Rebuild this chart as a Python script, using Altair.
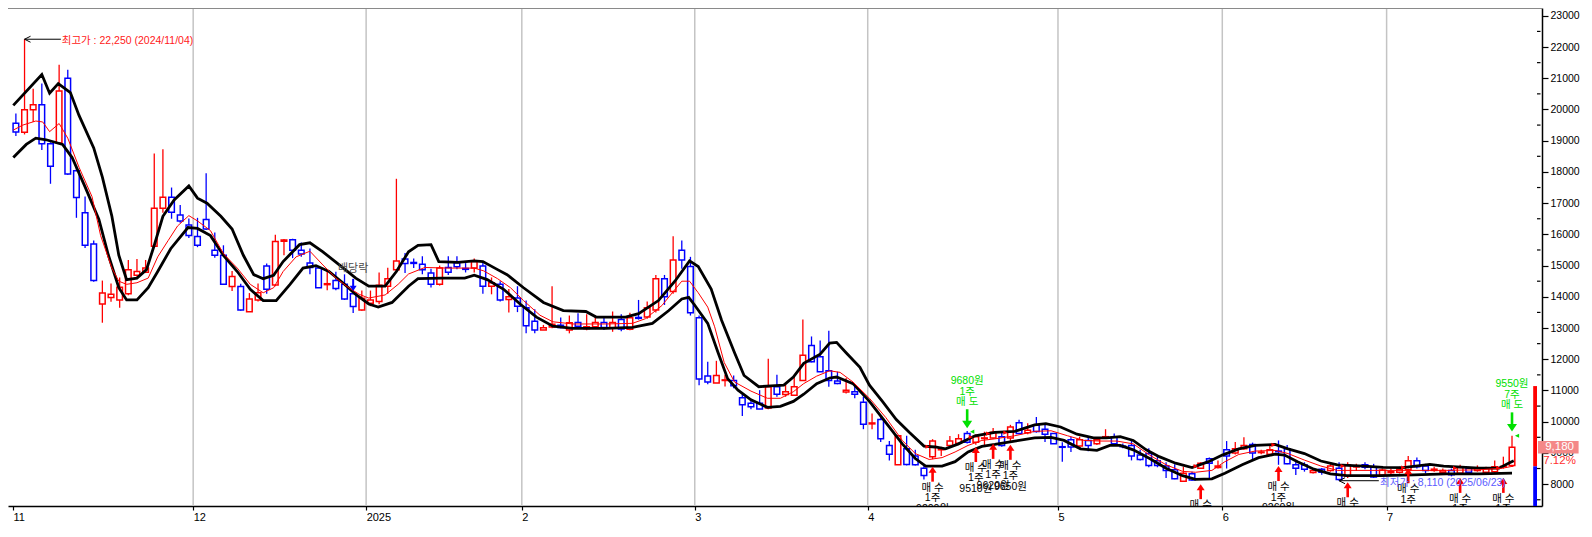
import altair as alt
import pandas as pd

FONT = "Liberation Sans, Noto Sans CJK KR, sans-serif"

# ---------------- candle data (one entry per trading day, 2024-11-01 .. 2025-07-21) ----------------
opens = [19560,19270,19990,20150,18900,18930,21000,18040,16690,15690,
 13770,13980,13900,14100,14690,14790,15620,16840,17190,16620,
 16300,15930,16480,15490,15330,14330,14330,13520,13900,14990,
 14380,15780,15830,15490,15080,14920,14390,14520,14400,14100,
 13580,13790,13850,14340,14870,15210,15100,15040,14760,14400,
 14940,15090,14910,14920,14990,14340,14400,13910,13960,13650,
 13220,12940,13030,13090,12940,13180,12980,13040,13180,12990,
 13270,12960,13340,13350,13580,14580,14170,15490,14970,13330,
 11460,11240,11320,11320,10770,10590,10590,10440,11120,10870,
 10850,11320,12440,12080,11630,11300,10950,10960,10620,9930,
 10070,9240,8620,9130,8900,8510,8880,9100,9240,9310,
 9620,9340,9460,9480,9520,9480,9970,9650,9900,9760,
 9620,9200,9420,9220,9400,9290,9480,9500,9220,9240,
 8930,8980,8750,8580,8460,8090,8330,8510,8810,8530,
 9100,9000,9130,9270,9010,8960,9060,9130,8620,8610,
 8370,8480,8440,8510,8250,8550,8620,8560,8290,8370,
 8380,8460,8750,8580,8440,8380,8440,8350,8510,8440,
 8380,8400,8560,8600]
highs = [19875,22250,20660,20830,18950,21430,21270,18200,17210,15800,
 14520,14430,14620,15180,15210,15180,18590,18730,17500,16940,
 16510,16530,17960,16060,15650,14830,14420,14120,14430,15070,
 15990,15850,15860,15740,15550,14950,14820,14800,14720,14240,
 14200,14200,14780,14930,17780,15400,15230,15300,14900,15000,
 15300,15300,15080,15230,15130,14620,14500,14250,14340,13880,
 13600,13100,14340,13340,13400,13470,13440,13400,13320,13530,
 13440,13490,13900,13850,14700,14700,15940,15800,15280,13400,
 11920,11950,11500,11480,10880,10700,11010,12020,11500,11180,
 11480,13270,12730,12600,12910,11600,11400,11200,10800,10260,
 10150,9380,9550,9550,9100,8620,9440,9200,9540,9600,
 9700,9600,9680,9800,9650,9900,10060,9950,10150,9930,
 9640,9340,9520,9520,9520,9450,9760,9620,9300,9380,
 9100,9150,8900,8700,8640,8560,8400,8700,8850,8760,
 9380,9350,9500,9330,9100,9270,9400,9250,8760,8700,
 8500,8520,8710,8700,8700,8650,8700,8650,8500,8500,
 8560,8900,8850,8650,8560,8500,8500,8620,8560,8600,
 8560,8760,8880,9550]
lows = [19150,19200,19600,18700,17620,18900,17900,16530,15560,14480,
 13170,13840,13650,14050,14650,14760,15600,16690,16500,16370,
 15880,15590,16140,15250,14390,14190,13550,13520,13850,14100,
 14340,15330,15240,15280,14720,14290,14210,14210,13900,13480,
 13550,13700,13760,14100,14800,14760,14920,14720,14300,14360,
 14700,14880,14780,14780,14100,14080,13850,13500,13510,12830,
 12830,12940,12990,12990,12830,13000,12930,13000,12940,12880,
 12900,12930,13270,13300,13500,13740,14100,14900,13400,11170,
 11200,11240,11130,11070,10180,10400,10400,10400,10800,10800,
 10850,11300,11900,11600,11120,11200,10900,10750,9760,9760,
 9350,8760,8620,8600,8600,8150,8800,8900,9200,9250,
 9300,9260,9250,9450,9200,9350,9600,9600,9650,9350,
 9290,8720,9030,9200,9050,9250,9480,9250,9150,8760,
 8760,8540,8540,8200,8160,8090,8100,8500,8150,8500,
 8500,8950,9100,8780,8960,8940,8620,8640,8290,8400,
 8340,8300,8400,8110,8200,8420,8480,8200,8250,8300,
 8340,8440,8500,8350,8400,8340,8250,8300,8300,8400,
 8320,8350,8500,8550]
closes = [19280,19990,20150,18900,18180,20590,17930,17180,15650,14520,
 14120,14080,14310,14870,14810,14920,16840,17190,16710,16430,
 15960,15650,16170,15330,14400,14650,13580,13930,14130,14240,
 15770,15820,15490,15370,14940,14290,14420,14270,13930,13690,
 13950,13900,14370,14580,15150,15070,15070,14870,14400,14920,
 14790,14960,14880,15130,14340,14450,13900,14000,13700,13070,
 12940,13010,13120,13020,13170,13060,13040,13180,13020,13180,
 12970,13330,13310,13650,14580,14000,15180,15180,13490,11370,
 11270,11480,11340,11150,10540,10480,10410,11120,10880,10960,
 11120,12130,11920,11600,11320,11220,11010,10880,9920,9960,
 9450,8960,9550,8630,8620,8280,9380,9130,9380,9450,
 9340,9520,9480,9660,9240,9830,9620,9730,9690,9600,
 9290,9180,9190,9420,9240,9420,9520,9290,9200,8900,
 8790,8600,8600,8440,8170,8350,8130,8670,8670,8580,
 8900,9130,9240,9000,9030,9100,9040,8650,8510,8480,
 8440,8380,8580,8150,8620,8560,8540,8230,8450,8400,
 8480,8750,8560,8440,8480,8440,8300,8530,8380,8520,
 8510,8560,8570,9180]

# ---------------- indicator lines: (trading-day index, price) ----------------
upper_band = [(-0.3,20130),(3.0,21120),(3.9,20520),(4.9,20830),(6.3,20540),(7.3,19810),(9.0,18770),
 (10.0,17830),(11.1,16580),(11.9,15330),(12.8,14550),(14.0,14600),(15.1,14870),(16.0,15650),(17.0,16580),
 (18.3,17100),(20.0,17550),(21.0,17160),(22.1,17000),(23.7,16580),(25.0,16170),(26.3,15330),(27.5,14710),
 (28.6,14580),(29.8,14690),(30.9,15130),(32.8,15670),(34.0,15730),(35.5,15440),(37.4,15020),(39.3,14600),
 (40.8,14340),(42.7,14340),(44.0,14810),(45.4,15440),(46.5,15650),(48.0,15670),(48.9,15130),(51.1,15100),
 (53.0,15150),(54.0,15130),(55.7,14870),(56.8,14710),(58.7,14290),(61.0,13820),(63.3,13560),(65.9,13530),
 (67.1,13350),(70.5,13350),(72.0,13460),(74.3,13880),(76.2,14500),(77.9,15150),(78.9,14970),(80.4,14250),
 (81.6,13250),(83.1,12210),(84.2,11480),(85.9,11120),(87.3,11150),(88.8,11170),(89.9,11430),(91.1,11870),
 (93.0,12160),(94.1,12520),(94.9,12540),(96.0,12210),(97.6,11740),(98.7,11170),(100.2,10650),(101.8,10070),
 (103.3,9660),(105.0,9220),(106.3,9190),(107.5,9130),(109.0,9290),(110.9,9550),(113.2,9660),(115.5,9690),
 (117.8,9900),(119.1,9940),(120.8,9830),(122.7,9600),(124.6,9480),(126.1,9480),(127.7,9520),(129.2,9400),
 (130.7,9100),(132.2,8880),(134.1,8670),(136.0,8530),(137.9,8720),(139.5,8930),(141.4,9130),(143.3,9240),
 (145.6,9270),(147.1,9130),(149.0,8980),(150.9,8740),(152.8,8620),(155.9,8580),(158.1,8540),(160.4,8530),
 (163.5,8630),(165.1,8580),(169.2,8510),(171.5,8510),(172.6,8670),(173.2,8750)]
lower_band = [(-0.3,18460),(1.2,18880),(2.3,19080),(3.5,19030),(5.4,18880),(6.5,18460),(8.0,17520),
 (9.6,16480),(10.7,15330),(11.9,14290),(12.8,13900),(14.0,13900),(15.3,14290),(16.4,14810),(17.9,15540),
 (19.9,16220),(21.0,16190),(22.5,15960),(24.0,15330),(25.6,14810),(27.1,14240),(28.6,13880),(30.1,13880),
 (31.7,14400),(33.2,14920),(34.7,15000),(36.2,14810),(37.8,14450),(39.3,14080),(40.8,13770),(41.9,13670),
 (43.5,13820),(45.4,14340),(46.5,14580),(49.2,14600),(51.9,14600),(53.0,14690),(54.5,14550),(56.4,14240),
 (58.3,13770),(60.2,13350),(62.1,13060),(64.4,12990),(68.2,12990),(71.3,13020),(73.6,13150),(75.5,13560),
 (77.0,13930),(77.8,13980),(78.5,13730),(80.0,13150),(81.2,12210),(82.3,11380),(83.5,11010),(85.0,10700),
 (86.9,10460),(88.4,10490),(89.9,10650),(91.1,10880),(92.6,11220),(94.1,11400),(94.9,11430),(96.8,11220),
 (98.7,10650),(100.6,9970),(102.5,9290),(104.0,8820),(105.2,8580),(107.1,8580),(108.6,8720),(110.1,9030),
 (111.7,9210),(113.2,9270),(115.5,9380),(117.8,9480),(119.7,9500),(121.2,9400),(123.1,9130),(125.0,9080),
 (126.5,9240),(127.7,9240),(129.2,9100),(131.1,8820),(133.0,8510),(134.9,8270),(136.4,8150),(138.3,8170),
 (139.8,8350),(141.8,8620),(143.7,8850),(145.6,8960),(146.7,8930),(148.2,8720),(150.1,8480),(152.0,8330),
 (153.9,8270),(157.8,8270),(161.7,8300),(165.4,8330),(169.2,8330),(173.0,8350)]
ma_line = [(-0.3,19340),(0.8,19500),(2.3,19630),(3.1,19600),(3.9,19290),(5.0,19550),(6.0,19080),(7.3,18150),
 (8.8,17210),(9.8,15960),(11.1,14920),(11.9,14500),(12.8,14400),(14.0,14450),(15.3,14600),(16.4,15280),
 (17.6,15800),(18.7,16270),(20.0,16600),(21.0,16430),(22.5,16120),(24.0,15380),(25.6,14920),(27.1,14400),
 (28.6,14130),(29.8,14290),(30.9,14810),(32.4,15280),(34.0,15460),(35.5,15020),(37.0,14600),(38.5,14290),
 (39.7,14080),(40.8,13960),(42.7,14060),(44.2,14400),(45.4,14730),(47.3,14940),(49.9,14920),(53.0,14920),
 (54.1,14830),(55.7,14580),(57.2,14290),(58.7,13880),(60.6,13410),(62.1,13200),(64.4,13130),(68.2,13130),
 (71.3,13150),(72.8,13300),(74.7,13720),(75.9,14130),(77.0,14500),(77.9,14500),(78.9,14130),(80.0,13670),
 (80.8,13040),(81.9,11900),(83.1,11270),(85.0,10980),(86.9,10750),(88.4,10750),(89.9,10960),(91.1,11220),
 (92.6,11460),(94.1,11630),(95.3,11580),(96.8,11270),(98.7,10750),(100.6,10130),(102.5,9400),(104.0,8980),
 (105.6,8790),(107.1,8850),(108.6,9030),(110.1,9240),(111.7,9400),(113.2,9450),(115.5,9550),(117.8,9690),
 (119.7,9710),(121.6,9550),(123.5,9400),(125.4,9380),(127.3,9380),(129.2,9290),(131.1,8930),(133.0,8620),
 (134.9,8410),(136.4,8380),(138.3,8440),(139.8,8720),(141.4,8950),(143.3,9060),(145.6,9080),(147.1,8980),
 (149.0,8770),(150.9,8580),(152.8,8440),(158.1,8440),(165.4,8440),(169.2,8460),(171.9,8510),(173.2,8580)]

# ---------------- axis / calendar ----------------
month_breaks = [20.5, 40.5, 58.5, 78.5, 98.5, 120.5, 139.5, 158.5]
month_labels = ["12", "2025", "2", "3", "4", "5", "6", "7"]
first_month_label = "11"
x_lo, x_hi = -0.334, 175.89
y_lo, y_hi = 7300, 23250
y_major = list(range(8000, 23001, 1000))
y_minor = list(range(7500, 23000, 1000))

# ---------------- trade annotations ----------------
buy_idx = [106, 111, 113, 115, 137, 146, 154, 161, 167, 172]
buy_tip = [8560, 9190, 9290, 9260, 8000, 8580, 8060, 8510, 8200, 8200]
buy_text = ["매 수\n1주\n9200원", "매 수\n1주\n9510원", "매 수\n1주\n9620원", "매 수\n1주\n9650원",
            "매 수\n1주", "매 수\n1주\n9260원", "매 수\n1주", "매 수\n1주", "매 수\n1주", "매 수\n1주"]
buy_price = [9200, 9510, 9620, 9650, 8580, 9260, 8580, 8530, 8510, 8510]

sell_idx = [110, 173]
sell_tip = [9790, 9690]
sell_text = ["9680원\n1주\n매 도", "9550원\n7주\n매 도"]
sell_price = [9680, 9550]

exdiv_idx, exdiv_tip, exdiv_text = [39], [14190], ["배당락"]

peak = {"idx": 1, "price": 22250, "end": 5.2, "label_idx": 5.3, "label": "최고가 : 22,250 (2024/11/04)"}
trough = {"idx": 153, "price": 8110, "end": 157.6, "label_idx": 157.75, "label": "최저가 : 8,110 (2025/06/23)"}

last_price, prev_close, change_pct = 9180, 8570, "7.12%"
upper_limit, lower_limit = 11141, 5999

RED, BLUE, GREEN = "#ff0000", "#0000ff", "#00e000"

# ---------------- build tables ----------------
n = len(opens)
candles = pd.DataFrame({"i": list(range(n)), "open": opens, "high": highs, "low": lows, "close": closes})
candles["col"] = [RED if c >= o else BLUE for o, c in zip(opens, closes)]

env = pd.DataFrame(
    [{"idx": a, "price": b, "band": "upper"} for a, b in upper_band]
    + [{"idx": a, "price": b, "band": "lower"} for a, b in lower_band]
)
ma = pd.DataFrame([{"idx": a, "price": b} for a, b in ma_line])

buys = pd.DataFrame({"idx": buy_idx, "tip": buy_tip, "txt": buy_text, "price": buy_price})
sells = pd.DataFrame({"idx": sell_idx, "tip": sell_tip, "txt": sell_text, "price": sell_price})
exdiv = pd.DataFrame({"idx": exdiv_idx, "tip": exdiv_tip, "txt": exdiv_text})
extremes = pd.DataFrame([peak, trough])
extremes["col"] = ["#ff2020", "#5a5aff"]
grid = pd.DataFrame({"b": month_breaks})
top = pd.DataFrame({"v": [y_hi]})
minor = pd.DataFrame({"v": y_minor, "x": [x_hi] * len(y_minor)})
limit_bar = pd.DataFrame({"x": [175.45, 175.45], "x2": [x_hi, x_hi],
                          "y": [prev_close, lower_limit], "y2": [upper_limit, prev_close],
                          "col": [RED, BLUE]})
tag = pd.DataFrame({"x": [176.0], "x2": [180.7], "xm": [178.5], "y": [last_price],
                    "lo": [last_price - 200], "hi": [last_price + 200],
                    "label": [f"{last_price:,}"], "pct": [change_pct]})

# ---------------- scales & axes ----------------
XS = alt.Scale(domain=[x_lo, x_hi], nice=False, zero=False)
YS = alt.Scale(domain=[y_lo, y_hi], nice=False, zero=False)

tick_vals = [x_lo] + month_breaks
tick_labs = [first_month_label] + month_labels
expr = "''"
for v, lab in reversed(list(zip(tick_vals, tick_labs))):
    expr = f"abs(datum.value - ({v})) < 0.01 ? '{lab}' : ({expr})"

AX = alt.Axis(values=tick_vals, labelExpr=expr, title=None, grid=False, domainColor="black",
              domainWidth=1.3, tickColor="black", tickSize=4, tickWidth=1.2, labelAlign="left",
              labelBaseline="top", labelPadding=1, labelFontSize=11, labelFont=FONT,
              labelColor="black", labelFlush=False, labelOverlap=False)
AY = alt.Axis(orient="right", values=y_major, format="d", title=None, grid=False,
              domainColor="black", domainWidth=1.5, tickColor="black", tickSize=6, tickWidth=1.2,
              labelFontSize=10.5, labelFont=FONT, labelColor="black", labelPadding=2,
              labelOverlap=False, labelFlush=False)


def ex(f):
    return alt.X(f, type="quantitative", scale=XS, axis=AX)


def ey(f):
    return alt.Y(f, type="quantitative", scale=YS, axis=AY)


lit = alt.Color("col:N", scale=None)

layers = []
# month grid lines
layers.append(alt.Chart(grid).mark_rule(color="#c4c4c4", strokeWidth=1.5).encode(x=ex("b")))
# top border
layers.append(alt.Chart(top).mark_rule(color="#8a8a8a", strokeWidth=2).encode(y=ey("v")))
# minor ticks on the price axis
layers.append(alt.Chart(minor).mark_rule(color="black", strokeWidth=1.2, x2Offset=3.5).encode(
    x=ex("x"), x2="x:Q", y=ey("v")))
# wicks
layers.append(alt.Chart(candles).mark_rule(strokeWidth=1.3).encode(
    x=ex("i"), y=ey("low"), y2="high:Q", color=lit))
# bodies
layers.append(alt.Chart(candles).mark_bar(size=5.6, fill="white", strokeWidth=1.5).encode(
    x=ex("i"), y=ey("open"), y2="close:Q", stroke=alt.Stroke("col:N", scale=None)))
# envelope and moving average
layers.append(alt.Chart(env).mark_line(color="black", strokeWidth=2.8).encode(
    x=ex("idx"), y=ey("price"), detail="band:N"))
layers.append(alt.Chart(ma).mark_line(color=RED, strokeWidth=1.0).encode(
    x=ex("idx"), y=ey("price")))
# price-limit bar at the right edge
layers.append(alt.Chart(limit_bar).mark_rect(clip=True).encode(
    x=ex("x"), x2="x2:Q", y=ey("y"), y2="y2:Q", color=lit))

# buy arrows
layers.append(alt.Chart(buys).mark_rule(color=RED, strokeWidth=2.6, yOffset=5, y2Offset=15).encode(
    x=ex("idx"), y=ey("tip"), y2="tip:Q"))
layers.append(alt.Chart(buys).mark_point(shape="M0,-0.75L1,0.75L-1,0.75Z", size=64, filled=True,
                                         opacity=1, color=RED, yOffset=3).encode(
    x=ex("idx"), y=ey("tip")))
layers.append(alt.Chart(buys).mark_text(font=FONT, fontSize=10.5, lineBreak="\n", lineHeight=10.5,
                                        baseline="top", align="center", dy=16, color="black",
                                        clip=True).encode(x=ex("idx"), y=ey("tip"), text="txt:N"))
layers.append(alt.Chart(buys).mark_point(shape="M-1,-1L1,0L-1,1Z", size=18, filled=True, opacity=1,
                                         color=RED, xOffset=-5).encode(x=ex("idx"), y=ey("price")))
# sell arrows
layers.append(alt.Chart(sells).mark_rule(color=GREEN, strokeWidth=2.6, yOffset=-6, y2Offset=-19).encode(
    x=ex("idx"), y=ey("tip"), y2="tip:Q"))
layers.append(alt.Chart(sells).mark_point(shape="M-1,-0.75L1,-0.75L0,0.75Z", size=100, filled=True,
                                          opacity=1, color=GREEN, yOffset=-3.75).encode(
    x=ex("idx"), y=ey("tip")))
layers.append(alt.Chart(sells).mark_text(font=FONT, fontSize=10.5, lineBreak="\n", lineHeight=10.5,
                                         baseline="top", align="center", dy=-52, color=GREEN).encode(
    x=ex("idx"), y=ey("tip"), text="txt:N"))
layers.append(alt.Chart(sells).mark_point(shape="M1,-1L-1,0L1,1Z", size=18, filled=True, opacity=1,
                                          color=GREEN, xOffset=5).encode(x=ex("idx"), y=ey("price")))
# ex-dividend marker
layers.append(alt.Chart(exdiv).mark_rule(color=BLUE, strokeWidth=2, yOffset=-4, y2Offset=-12).encode(
    x=ex("idx"), y=ey("tip"), y2="tip:Q"))
layers.append(alt.Chart(exdiv).mark_point(shape="M-1,-0.75L1,-0.75L0,0.75Z", size=49, filled=True,
                                          opacity=1, color=BLUE, yOffset=-2.6).encode(
    x=ex("idx"), y=ey("tip")))
layers.append(alt.Chart(exdiv).mark_text(font=FONT, fontSize=11, baseline="middle", align="center",
                                         dy=-22, color="#4a4a4a").encode(
    x=ex("idx"), y=ey("tip"), text="txt:N"))
# highest / lowest price notes
layers.append(alt.Chart(extremes).mark_rule(color="black", strokeWidth=1).encode(
    x=ex("idx"), x2="end:Q", y=ey("price")))
layers.append(alt.Chart(extremes).mark_point(shape="M1,-1L-1,0L1,1", size=36, filled=False, opacity=1,
                                             color="black", strokeWidth=1, xOffset=3).encode(
    x=ex("idx"), y=ey("price")))
layers.append(alt.Chart(extremes).mark_text(font=FONT, fontSize=10.5, baseline="middle", align="left",
                                            dy=2).encode(
    x=ex("label_idx"), y=ey("price"), text="label:N", color=lit))
# current price tag
layers.append(alt.Chart(tag).mark_rect(color="#f48888").encode(
    x=ex("x"), x2="x2:Q", y=ey("lo"), y2="hi:Q"))
layers.append(alt.Chart(tag).mark_text(font=FONT, fontSize=11.5, color="white", align="center",
                                       baseline="middle").encode(
    x=ex("xm"), y=ey("y"), text="label:N"))
layers.append(alt.Chart(tag).mark_text(font=FONT, fontSize=11.5, color="#ff3030", align="center",
                                       baseline="middle", dy=14).encode(
    x=ex("xm"), y=ey("y"), text="pct:N"))

chart = alt.layer(*layers).properties(
    width=1534, height=498, background="white",
    autosize=alt.AutoSizeParams(type="none"),
    padding={"left": 0, "top": 0, "right": 42, "bottom": 18},
).configure_view(stroke=None)

chart.save("out.html", embed_options={"renderer": "svg", "actions": False})
